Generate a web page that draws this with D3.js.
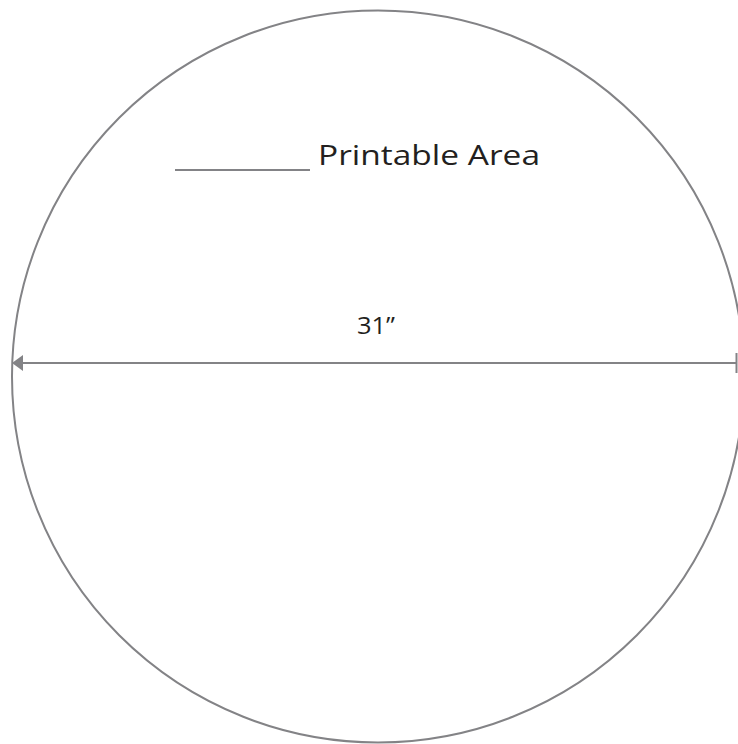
<!DOCTYPE html>
<html lang="en">
   <head>
      <meta charset="UTF-8">
      <title>Printable area</title>
      <script src="https://cdn.jsdelivr.net/npm/d3@7"></script>
      <style>
         html, body { margin: 0; padding: 0; background: #fff; }
         svg { display: block; }
      </style>
   </head>
   <body>
      <svg id="mysvg" width="738" height="744"></svg>

      <script>
      // diameter in inches and labels
      const diameter = [31];
      const dimLabels = ["31\u201D"];
      const legendLabels = ["Printable Area"];

      const W = 738, H = 744;
      const cx = 378, cy = 376.5, r = 366;
      const gray = "#838386";

      const svg = d3.select("#mysvg");

      // inches -> px along the horizontal diameter
      const x = d3.scaleLinear().domain([0, diameter[0]]).range([cx - r, cx + r]);

      svg.append("circle")
         .attr("cx", cx).attr("cy", cy).attr("r", r)
         .attr("fill", "none")
         .attr("stroke", gray)
         .attr("stroke-width", 2);

      // dimension line
      const lineY = 363;
      const x0 = x(0), x1 = Math.min(x(diameter[0]), W - 1.5);

      svg.append("line")
         .attr("x1", x0 + 8).attr("x2", x1)
         .attr("y1", lineY).attr("y2", lineY)
         .attr("stroke", gray).attr("stroke-width", 2);

      svg.append("path")
         .attr("d", d3.line()([[x0, lineY], [x0 + 11, lineY - 8], [x0 + 11, lineY + 8]]) + "Z")
         .attr("fill", gray);

      svg.append("line")
         .attr("x1", x1).attr("x2", x1)
         .attr("y1", lineY - 10).attr("y2", lineY + 10)
         .attr("stroke", gray).attr("stroke-width", 2);

      svg.append("text")
         .attr("x", 357).attr("y", 334)
         .attr("font-family", "'Open Sans', sans-serif")
         .attr("font-size", 24)
         .attr("textLength", 38)
         .attr("lengthAdjust", "spacingAndGlyphs")
         .attr("fill", "#231f20")
         .text(dimLabels[0]);

      // legend
      const leg = svg.append("g");
      leg.append("line")
         .attr("x1", 175).attr("x2", 310)
         .attr("y1", 170).attr("y2", 170)
         .attr("stroke", gray).attr("stroke-width", 2);
      leg.append("text")
         .attr("x", 318).attr("y", 165)
         .attr("font-family", "'Open Sans', sans-serif")
         .attr("font-size", 28)
         .attr("textLength", 222)
         .attr("lengthAdjust", "spacingAndGlyphs")
         .attr("fill", "#231f20")
         .text(legendLabels[0]);
      </script>
   </body>
</html>
